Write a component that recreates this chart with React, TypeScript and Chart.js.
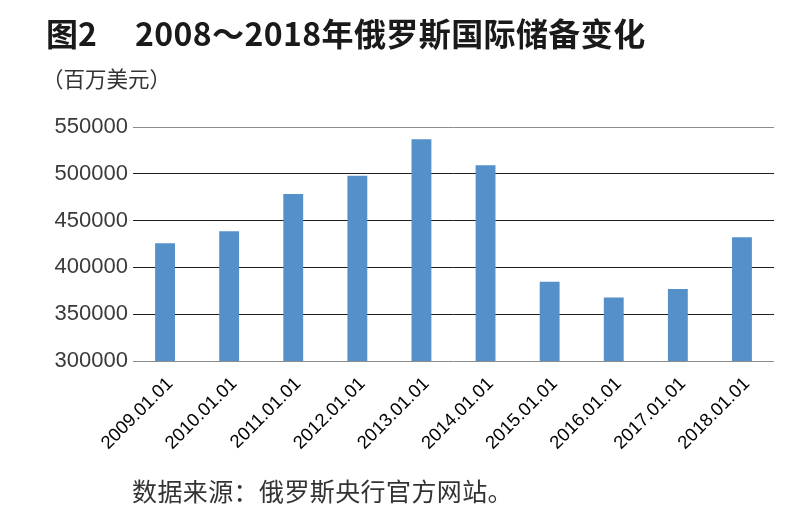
import React, { useEffect, useRef } from "react";
import { Chart, registerables } from "chart.js";

Chart.register(...registerables);

const categories = [
  "2009.01.01",
  "2010.01.01",
  "2011.01.01",
  "2012.01.01",
  "2013.01.01",
  "2014.01.01",
  "2015.01.01",
  "2016.01.01",
  "2017.01.01",
  "2018.01.01",
];
const reserves = [425700, 438500, 478500, 497800, 537000, 509200, 384600, 367900, 376800, 432100];
const yMin = 300000;
const yMax = 550000;
const yStep = 50000;

const titleMain = "图2";
const titleRest = "2008～2018年俄罗斯国际储备变化";
const unitLabel = "（百万美元）";
const sourceNote = "数据来源：俄罗斯央行官方网站。";

export default function App() {
  const ref = useRef<HTMLCanvasElement | null>(null);

  useEffect(() => {
    const canvas = ref.current;
    if (!canvas) return;
    const chart = new Chart(canvas, {
      type: "bar",
      data: {
        labels: categories,
        datasets: [
          {
            data: reserves,
            backgroundColor: "#5590C9",
            borderWidth: 0,
            barPercentage: 0.31,
            categoryPercentage: 1,
          },
        ],
      },
      options: {
        responsive: false,
        animation: false,
        devicePixelRatio: 1,
        layout: { padding: { top: 127, right: 26, left: 0, bottom: 0 } },
        plugins: {
          legend: { display: false },
          title: { display: false },
          tooltip: { enabled: false },
        },
        scales: {
          x: {
            grid: { display: false },
            border: { display: false },
            ticks: {
              autoSkip: false,
              minRotation: 45,
              maxRotation: 45,
              padding: 4,
              labelOffset: 5,
              color: "#000",
              font: { family: "'Liberation Sans', Arial, sans-serif", size: 18.5 },
            },
            afterFit: (s: any) => {
              s.height = 170;
            },
          },
          y: {
            min: yMin,
            max: yMax,
            border: { display: false },
            grid: {
              drawTicks: false,
              lineWidth: 1,
              color: (ctx: any) =>
                ctx.tick && (ctx.tick.value === yMax || ctx.tick.value === yMin) ? "#8c8c8c" : "#1e1e1e",
            },
            ticks: {
              stepSize: yStep,
              padding: 5,
              color: "#3a3a3a",
              font: { family: "'Liberation Sans', Arial, sans-serif", size: 22 },
              callback: (v: any) => String(v),
            },
            afterFit: (s: any) => {
              s.width = 133;
            },
          },
        },
      },
    });
    return () => chart.destroy();
  }, []);

  return (
    <div
      style={{
        position: "fixed",
        left: 0,
        top: 0,
        width: 800,
        height: 531,
        background: "#fff",
        overflow: "hidden",
      }}
    >
      <canvas ref={ref} width={800} height={531} style={{ position: "absolute", left: 0, top: 0 }} />
      <div
        style={{
          position: "absolute",
          left: 46,
          top: 13,
          fontFamily: "'Noto Sans CJK SC', sans-serif",
          fontWeight: 700,
          fontSize: 32,
          lineHeight: "38px",
          color: "#1a1a1a",
          whiteSpace: "nowrap",
        }}
      >
        <span>{titleMain}</span>
        <span style={{ marginLeft: 38, letterSpacing: 0.4 }}>{titleRest}</span>
      </div>
      <div
        style={{
          position: "absolute",
          left: 42,
          top: 63,
          fontFamily: "'Noto Sans CJK SC', sans-serif",
          fontSize: 21.5,
          lineHeight: "30px",
          color: "#333",
          whiteSpace: "nowrap",
        }}
      >
        {unitLabel}
      </div>
      <div
        style={{
          position: "absolute",
          left: 132,
          top: 474,
          fontFamily: "'Noto Sans CJK SC', sans-serif",
          fontSize: 25,
          letterSpacing: 0.4,
          lineHeight: "32px",
          color: "#333",
          whiteSpace: "nowrap",
        }}
      >
        {sourceNote}
      </div>
    </div>
  );
}
